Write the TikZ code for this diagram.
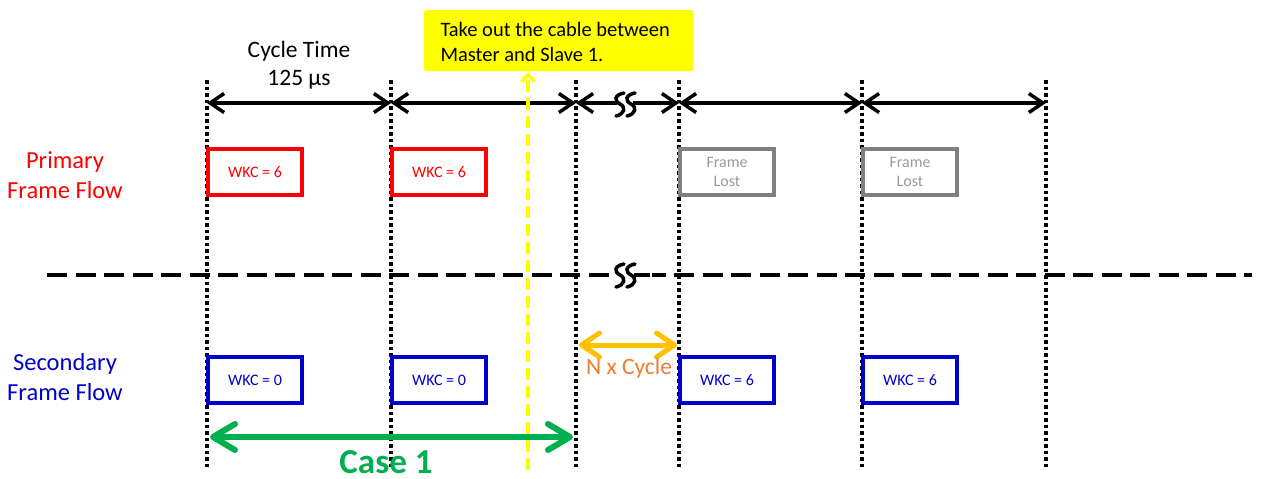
\documentclass[tikz,border=0pt]{standalone}
\usepackage{fontspec}
\setmainfont{Carlito}
\usetikzlibrary{arrows.meta}
\definecolor{pred}{HTML}{FF0000}
\definecolor{pblue}{HTML}{0000CC}
\definecolor{pgray}{HTML}{808080}
\definecolor{pgraytxt}{HTML}{9A9A9A}
\definecolor{pgreen}{HTML}{00B050}
\definecolor{pgold}{HTML}{FFC000}
\definecolor{porange}{HTML}{ED7D31}
\definecolor{pyellow}{HTML}{FFFF00}
\tikzset{
  dotline/.style={line width=3.5pt, dash pattern=on 3.5pt off 3pt, black},
  cyclearrow/.style={line width=3.5pt, black, {Straight Barb[length=14pt,width=19pt]}-{Straight Barb[length=14pt,width=19pt]}},
  framebox/.style={draw, line width=3.5pt, minimum width=94pt, minimum height=46pt, anchor=north west, inner sep=0pt, outer sep=0pt, font=\fontsize{16}{19}\selectfont, align=center},
  redbox/.style={framebox, draw=pred, text=pred},
  bluebox/.style={framebox, draw=pblue, text=pblue},
  graybox/.style={framebox, draw=pgray, text=pgraytxt},
  sidelabel/.style={font=\fontsize{24.5}{30}\selectfont, align=center},
  squig/.style={line width=3.5pt, black, line cap=round},
}
\newcommand{\brkglyph}[2]{%
  \draw[squig] (#1+9,#2-11) .. controls (#1-1,#2-9) and (#1-1,#2-3) .. (#1+5,#2) .. controls (#1+11,#2+3) and (#1+10,#2+10) .. (#1+1,#2+12);}
\begin{document}
\begin{tikzpicture}[x=1pt,y=-1pt]
\useasboundingbox (0,0) rectangle (1261,479);
% vertical dotted lines
\foreach \i/\x in {1/207,2/391,3/576,4/679,5/862,6/1046}{
  \coordinate (t\i) at (\x,80);
  \coordinate (b\i) at (\x,470);
  \coordinate (a\i) at (\x,103);
}
\foreach \i in {1,...,6}{\draw[dotline] (t\i) -- (b\i);}
% dashed separator
\coordinate (dl) at (47,275);
\coordinate (dr) at (1252,275);
\draw[line width=3.5pt, dash pattern=on 20pt off 8.5pt] (dl) -- (dr);
\fill[white] (609,262) rectangle (652,289);
\coordinate (m1) at (634,275);
\coordinate (m2) at (650,275);
\draw[line width=3.5pt] (m1) -- (m2);
\brkglyph{615}{275}
\brkglyph{626}{275}
% top cycle arrows
\draw[cyclearrow] (a1) -- (a2);
\draw[cyclearrow] (a2) -- (a3);
\coordinate (s1) at (619,103);
\coordinate (s2) at (631,103);
\draw[line width=3.5pt, {Straight Barb[length=14pt,width=19pt]}-] (a3) -- (s1);
\draw[line width=3.5pt, -{Straight Barb[length=14pt,width=19pt]}] (s2) -- (a4);
\fill[white] (610,92) rectangle (640,115);
\brkglyph{615}{104}
\brkglyph{626}{104}
\draw[line width=3.5pt] (606,103) -- (617,103);
\draw[line width=3.5pt] (633,103) -- (645,103);
\draw[cyclearrow] (a4) -- (a5);
\draw[cyclearrow] (a5) -- (a6);
% cycle time label
\node[font=\fontsize{23.5}{28}\selectfont, align=center] (ct) at (299,65) {Cycle Time\\125 µs};
% side labels
\node[sidelabel, text=pred] (prim) at (65,175) {Primary\\Frame Flow};
\node[sidelabel, text=pblue] (sec) at (65,377) {Secondary\\Frame Flow};
% primary boxes
\node[redbox] (p1) at (208,149) {WKC = 6};
\node[redbox] (p2) at (392,149) {WKC = 6};
\node[graybox] (p3) at (680,149) {Frame\\Lost};
\node[graybox] (p4) at (863,149) {Frame\\Lost};
% secondary boxes
\node[bluebox] (q1) at (208,357) {WKC = 0};
\node[bluebox] (q2) at (392,357) {WKC = 0};
\node[bluebox] (q3) at (680,357) {WKC = 6};
\node[bluebox] (q4) at (863,357) {WKC = 6};
% yellow note
\node[fill=pyellow, rounded corners=1.5pt, minimum width=269pt, minimum height=61pt, anchor=north west, inner sep=0pt] (note) at (424,10) {};
\node[font=\fontsize{20.5}{25}\selectfont, align=left, anchor=west] (notetxt) at (437,41.5) {Take out the cable between\\Master and Slave 1.};
\coordinate (yb) at (528,470);
\coordinate (yt) at (528,72);
\draw[pyellow, line width=3.5pt, dash pattern=on 12pt off 6pt, -{Straight Barb[length=7pt,width=13pt]}] (yb) -- (yt);
% orange N x Cycle
\coordinate (o1) at (579,345);
\coordinate (o2) at (677,345);
\draw[pgold, line width=5pt, line cap=round, {Straight Barb[length=18pt,width=24pt,round]}-{Straight Barb[length=18pt,width=24pt,round]}] (o1) -- (o2);
\node[text=porange, font=\fontsize{23.5}{28}\selectfont] (ncyc) at (629,368) {N x Cycle};
% green case arrow
\coordinate (g1) at (210,437);
\coordinate (g2) at (573,437);
\draw[pgreen, line width=6pt, line cap=round, {Straight Barb[length=22pt,width=26pt,round]}-{Straight Barb[length=22pt,width=26pt,round]}] (g1) -- (g2);
\node[text=pgreen, font=\fontsize{35}{40}\bfseries\selectfont] (case) at (386,462) {Case 1};
\end{tikzpicture}
\end{document}
